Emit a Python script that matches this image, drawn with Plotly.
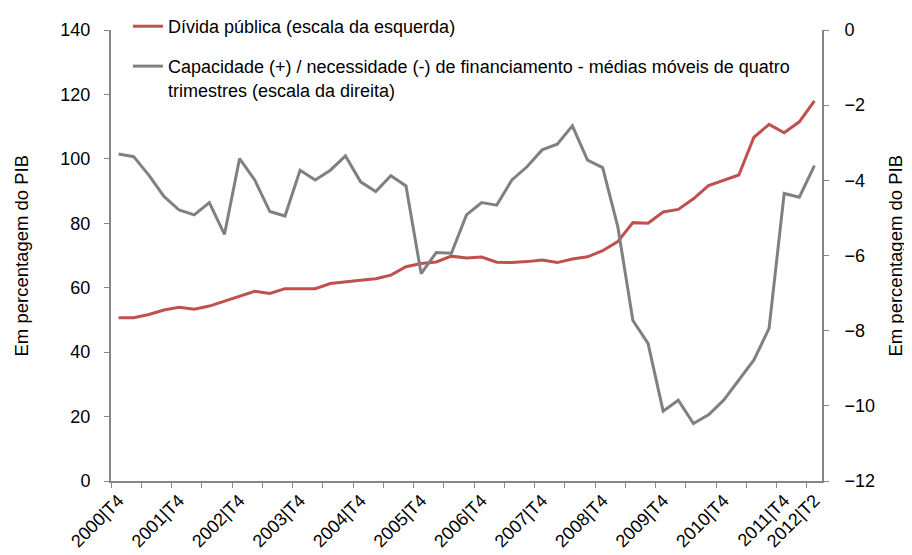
import plotly.graph_objects as go

quarters = []
for y in range(2000, 2013):
    for q in range(1, 5):
        if (y == 2000 and q < 4) or (y == 2012 and q > 2):
            continue
        quarters.append(f"{y}|T{q}")

divida = [50.7, 50.7, 51.7, 53.1, 53.9, 53.3, 54.3, 55.9, 57.3, 58.9, 58.2, 59.7,
          59.7, 59.7, 61.3, 61.7, 62.3, 62.8, 63.9, 66.5, 67.5, 68.0, 69.8, 69.2,
          69.5, 67.9, 67.8, 68.1, 68.6, 67.8, 68.9, 69.6, 71.5, 74.3, 80.2, 80.0,
          83.5, 84.3, 87.6, 91.7, 93.4, 95.0, 106.7, 110.7, 108.1, 111.5, 118.0]

capacidade = [-3.30, -3.37, -3.86, -4.43, -4.79, -4.92, -4.59, -5.44, -3.42, -3.99,
              -4.83, -4.95, -3.73, -3.99, -3.73, -3.35, -4.04, -4.30, -3.88, -4.15,
              -6.48, -5.92, -5.94, -4.92, -4.59, -4.66, -3.99, -3.64, -3.19, -3.04,
              -2.55, -3.46, -3.66, -5.23, -7.73, -8.34, -10.14, -9.85, -10.47, -10.24,
              -9.85, -9.31, -8.78, -7.94, -4.35, -4.45, -3.61]

label_idx = [0, 4, 8, 12, 16, 20, 24, 28, 32, 36, 40, 44, 46]
xs = list(range(len(quarters)))
axis_title = "Em percentagem do PIB"

FONT = "Liberation Sans, Arial, sans-serif"
AX = "#868686"

fig = go.Figure()
fig.add_trace(go.Scatter(
    x=xs, y=divida, mode="lines", name="Dívida pública (escala da esquerda)",
    line=dict(color="#C0504D", width=3), legend="legend"))
fig.add_trace(go.Scatter(
    x=xs, y=capacidade, mode="lines", yaxis="y2",
    name="Capacidade (+) / necessidade (-) de financiamento - médias móveis de quatro<br>trimestres (escala da direita)",
    line=dict(color="#808080", width=3), legend="legend2"))

# page body has an 8px margin, so the figure is sized/offset accordingly
fig.update_layout(
    width=904, height=547,
    margin=dict(l=103, r=90, t=22, b=74, autoexpand=False),
    paper_bgcolor="white", plot_bgcolor="white",
    font=dict(family=FONT, size=18, color="black"),
    showlegend=True,
    legend=dict(x=0.1327, y=1.0165, xref="container", yref="container",
                xanchor="left", yanchor="top",
                bgcolor="rgba(0,0,0,0)", font=dict(size=18), valign="top"),
    legend2=dict(x=0.1327, y=0.927, xref="container", yref="container",
                 xanchor="left", yanchor="top",
                 bgcolor="rgba(0,0,0,0)", font=dict(size=18), valign="top"),
    xaxis=dict(
        range=[-0.5, 46.5], tickmode="array",
        tickvals=[xs[i] for i in label_idx],
        ticktext=[quarters[i] for i in label_idx],
        tickangle=-45, ticks="", showgrid=False, zeroline=False,
        showline=True, linecolor=AX, linewidth=2, automargin=False,
        tickfont=dict(size=18),
        minor=dict(tickmode="linear", tick0=-0.5, dtick=2, ticks="outside",
                   ticklen=5, tickcolor=AX, tickwidth=1, showgrid=False),
    ),
    yaxis=dict(
        range=[0, 140], dtick=20, showgrid=False, zeroline=False,
        showline=True, linecolor=AX, linewidth=2, automargin=False,
        ticks="outside", ticklen=5, tickcolor=AX, ticklabelstandoff=10,
        tickfont=dict(size=18),
    ),
    yaxis2=dict(
        range=[-12, 0], dtick=2, overlaying="y", side="right",
        showgrid=False, zeroline=False, automargin=False,
        showline=True, linecolor=AX, linewidth=2,
        ticks="outside", ticklen=5, tickcolor=AX, ticklabelstandoff=12,
        tickfont=dict(size=18),
    ),
    annotations=[
        dict(text=axis_title, xref="paper", yref="paper", x=-0.1252, y=0.5,
             textangle=-90, showarrow=False, xanchor="center", yanchor="middle",
             font=dict(size=18.5)),
        dict(text=axis_title, xref="paper", yref="paper", x=1.1027, y=0.5,
             textangle=-90, showarrow=False, xanchor="center", yanchor="middle",
             font=dict(size=18.5)),
    ],
)

fig.write_html("out.html")
